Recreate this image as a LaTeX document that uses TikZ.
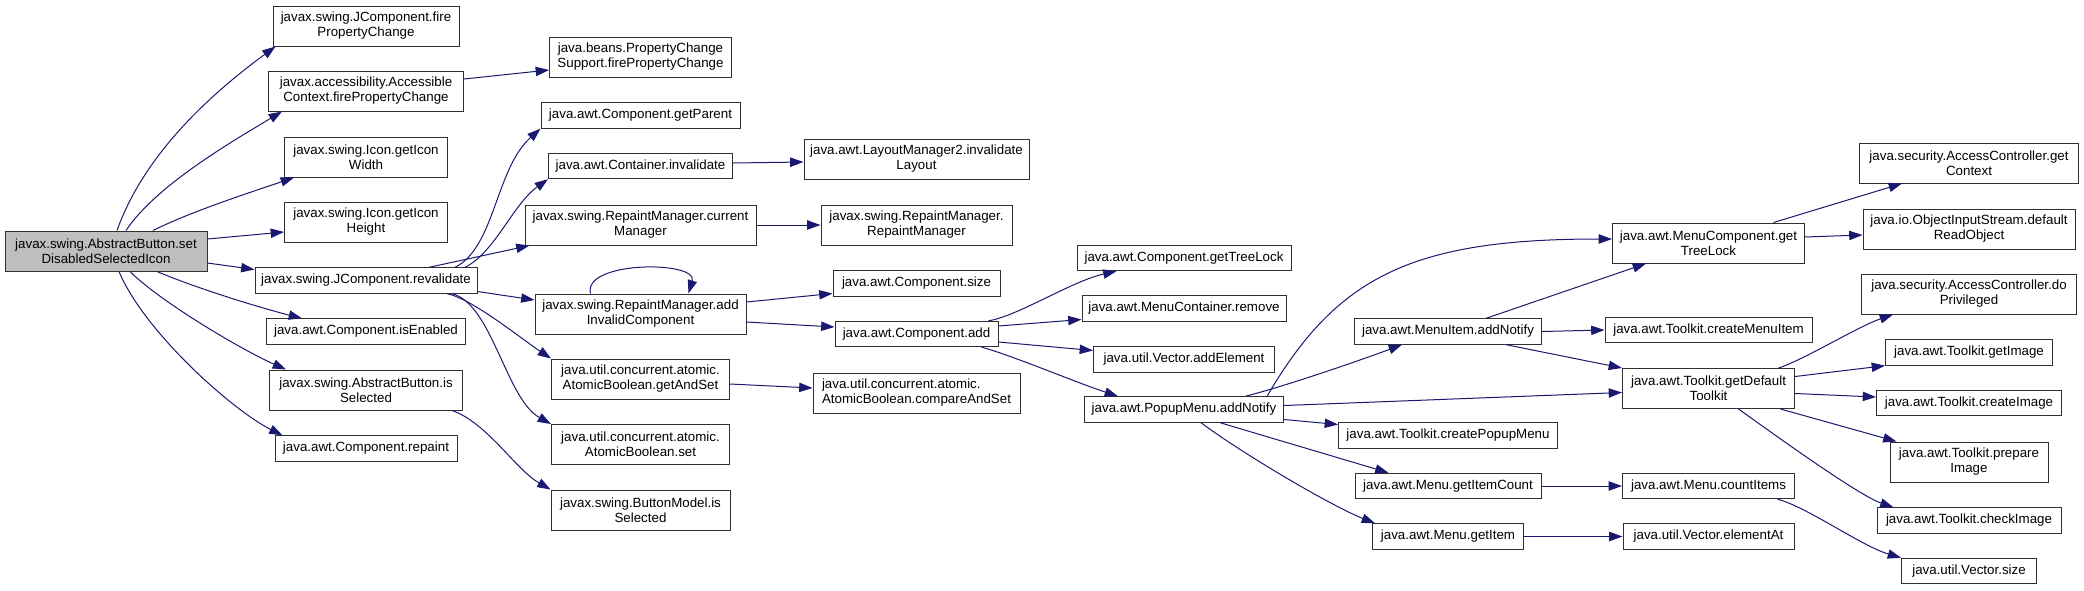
\documentclass[tikz,border=0pt]{standalone}
\usepackage{fontspec}
\setmainfont{Liberation Sans}
\usetikzlibrary{arrows.meta}
\definecolor{edge}{HTML}{191970}
\definecolor{rootfill}{HTML}{BFBFBF}
\definecolor{frame}{HTML}{303030}
\tikzset{
  fn/.style   = {draw=frame, fill=white, line width=0.75pt, minimum height=19pt,
                 inner xsep=1pt, inner ysep=0pt, align=center,
                 font=\fontsize{10}{11.25}\selectfont},
  two/.style  = {minimum height=30pt},
  wd/.style   = {minimum width=#1*0.75pt},
  cur/.style  = {fill=rootfill},
  call/.style = {draw=edge, line width=0.75pt, -{Triangle[length=10pt,width=7pt]}},
}
\begin{document}
\begin{tikzpicture}[x=0.75pt,y=-0.75pt]
  \useasboundingbox (0,0) rectangle (2084,590);
  \node[fn,two,cur,wd=202] (root) at (106,251) {javax.swing.AbstractButton.set\\DisabledSelectedIcon};
  \node[fn,two,wd=186] (jfire) at (366,26) {javax.swing.JComponent.fire\\PropertyChange};
  \node[fn,two,wd=195] (acc) at (366,91) {javax.accessibility.Accessible\\Context.firePropertyChange};
  \node[fn,two,wd=163] (iconw) at (366,157) {javax.swing.Icon.getIcon\\Width};
  \node[fn,two,wd=163] (iconh) at (366,222) {javax.swing.Icon.getIcon\\Height};
  \node[fn,wd=222] (reval) at (366,280.5) {javax.swing.JComponent.revalidate};
  \node[fn,wd=199] (isen) at (366,331.5) {java.awt.Component.isEnabled};
  \node[fn,two,wd=193] (issel) at (366,390) {javax.swing.AbstractButton.is\\Selected};
  \node[fn,wd=182] (repaint) at (366,448.5) {java.awt.Component.repaint};
  \node[fn,two,wd=182] (pcs) at (640.5,57) {java.beans.PropertyChange\\Support.firePropertyChange};
  \node[fn,wd=199] (getpar) at (640.5,115.5) {java.awt.Component.getParent};
  \node[fn,wd=184] (cinval) at (640.5,166) {java.awt.Container.invalidate};
  \node[fn,two,wd=231] (curmgr) at (640.5,225) {javax.swing.RepaintManager.current\\Manager};
  \node[fn,two,wd=211] (addinv) at (640.5,314) {javax.swing.RepaintManager.add\\InvalidComponent};
  \node[fn,two,wd=178] (getset) at (640.5,379) {java.util.concurrent.atomic.\\AtomicBoolean.getAndSet};
  \node[fn,two,wd=178] (abset) at (640.5,444.5) {java.util.concurrent.atomic.\\AtomicBoolean.set};
  \node[fn,two,wd=179] (bmsel) at (640.5,510) {javax.swing.ButtonModel.is\\Selected};
  \node[fn,two,wd=225] (lm2) at (916.5,159) {java.awt.LayoutManager2.invalidate\\Layout};
  \node[fn,two,wd=191] (rmgr) at (916.5,225) {javax.swing.RepaintManager.\\RepaintManager};
  \node[fn,wd=167] (csize) at (916.5,283.5) {java.awt.Component.size};
  \node[fn,wd=163] (cadd) at (916.5,334) {java.awt.Component.add};
  \node[fn,two,wd=207,align=left] (cmpset) at (916.5,393) {java.util.concurrent.atomic.\\AtomicBoolean.compareAndSet};
  \node[fn,wd=214] (ctree) at (1184,258) {java.awt.Component.getTreeLock};
  \node[fn,wd=204] (mcrem) at (1184,308.5) {java.awt.MenuContainer.remove};
  \node[fn,wd=181] (vadd) at (1184,359.5) {java.util.Vector.addElement};
  \node[fn,wd=199] (popup) at (1184,409.5) {java.awt.PopupMenu.addNotify};
  \node[fn,wd=187] (mitem) at (1448,331.5) {java.awt.MenuItem.addNotify};
  \node[fn,wd=219] (crpop) at (1448,435.5) {java.awt.Toolkit.createPopupMenu};
  \node[fn,wd=186] (gicount) at (1448,486) {java.awt.Menu.getItemCount};
  \node[fn,wd=151] (gitem) at (1448,536.5) {java.awt.Menu.getItem};
  \node[fn,two,wd=192] (mctree) at (1708.5,243) {java.awt.MenuComponent.get\\TreeLock};
  \node[fn,wd=207] (crmi) at (1708.5,330) {java.awt.Toolkit.createMenuItem};
  \node[fn,two,wd=172] (deftk) at (1708.5,388.5) {java.awt.Toolkit.getDefault\\Toolkit};
  \node[fn,wd=172] (cntit) at (1708.5,486) {java.awt.Menu.countItems};
  \node[fn,wd=171] (elat) at (1708.5,536.5) {java.util.Vector.elementAt};
  \node[fn,two,wd=219] (getctx) at (1969,163) {java.security.AccessController.get\\Context};
  \node[fn,two,wd=212] (readobj) at (1969,229) {java.io.ObjectInputStream.default\\ReadObject};
  \node[fn,two,wd=215] (dopriv) at (1969,294) {java.security.AccessController.do\\Privileged};
  \node[fn,wd=167] (getimg) at (1969,352.5) {java.awt.Toolkit.getImage};
  \node[fn,wd=185] (crimg) at (1969,403) {java.awt.Toolkit.createImage};
  \node[fn,two,wd=158] (prepimg) at (1969,462) {java.awt.Toolkit.prepare\\Image};
  \node[fn,wd=184] (chkimg) at (1969,520.5) {java.awt.Toolkit.checkImage};
  \node[fn,wd=135] (vsize) at (1969,571) {java.util.Vector.size};
  % calls
  \draw[call] ([shift={(11,0)}]root.north) .. controls +(25,-70) and +(-75,55) .. ([shift={(3,0)}]jfire.south west);
  \draw[call] ([shift={(20,0)}]root.north) .. controls +(30,-45) and +(-50,30) .. ([shift={(14,0)}]acc.south west);
  \draw[call] ([shift={(47,0)}]root.north) .. controls +(40,-20) and +(-35,12) .. ([shift={(10,0)}]iconw.south west);
  \draw[call] ([shift={(0,-12)}]root.east) -- ([shift={(0,10)}]iconh.west);
  \draw[call] ([shift={(0,12)}]root.east) -- ([shift={(0,-11)}]reval.west);
  \draw[call] ([shift={(51,0)}]root.south) .. controls +(40,17) and +(-40,-10) .. ([shift={(36,0)}]isen.north west);
  \draw[call] ([shift={(24,0)}]root.south) .. controls +(30,30) and +(-45,-20) .. ([shift={(17,0)}]issel.north west);
  \draw[call] ([shift={(13,0)}]root.south) .. controls +(25,60) and +(-50,-25) .. ([shift={(8,0)}]repaint.north west);
  \draw[call] ([shift={(0,-12)}]acc.east) -- ([shift={(0,13)}]pcs.west);
  \draw[call] ([shift={(89,0)}]reval.north) .. controls +(40,-20) and +(-45,40) .. (getpar.south west);
  \draw[call] ([shift={(99,0)}]reval.north) .. controls +(30,-15) and +(-35,25) .. (cinval.south west);
  \draw[call] ([shift={(63,0)}]reval.north) -- ([shift={(5,0)}]curmgr.south west);
  \draw[call] ([shift={(0,11)}]reval.east) -- ([shift={(0,-14)}]addinv.west);
  \draw[call] ([shift={(81,0)}]reval.south) .. controls +(25,5) and +(-30,-20) .. (getset.north west);
  \draw[call] ([shift={(86,0)}]reval.south) .. controls +(40,10) and +(-45,-25) .. (abset.north west);
  \draw[call] ([shift={(86,0)}]issel.south) .. controls +(35,12) and +(-35,-20) .. (bmsel.north west);
  \draw[call] ([shift={(0,-3)}]cinval.east) -- ([shift={(0,3)}]lm2.west);
  \draw[call] (curmgr.east) -- (rmgr.west);
  \draw[call] ([shift={(-50,0)}]addinv.north) .. controls +(-8,-33) and +(10,-33) .. ([shift={(48,0)}]addinv.north);
  \draw[call] ([shift={(0,-12)}]addinv.east) -- ([shift={(0,10)}]csize.west);
  \draw[call] ([shift={(0,8)}]addinv.east) -- ([shift={(0,-7)}]cadd.west);
  \draw[call] ([shift={(0,5)}]getset.east) -- ([shift={(0,-5)}]cmpset.west);
  \draw[call] ([shift={(72,0)}]cadd.north) .. controls +(30,-5) and +(-45,10) .. ([shift={(40,0)}]ctree.south west);
  \draw[call] ([shift={(0,-8)}]cadd.east) -- ([shift={(0,11)}]mcrem.west);
  \draw[call] ([shift={(0,8)}]cadd.east) -- ([shift={(0,-9)}]vadd.west);
  \draw[call] ([shift={(65,0)}]cadd.south) .. controls +(30,8) and +(-45,-15) .. ([shift={(34,0)}]popup.north west);
  \draw[call] ([shift={(83,0)}]popup.north) .. controls +(70,-120) and +(-200,0) .. ([shift={(0,-4)}]mctree.west);
  \draw[call] ([shift={(61,0)}]popup.north) .. controls +(40,-10) and +(-40,15) .. ([shift={(48,0)}]mitem.south west);
  \draw[call] ([shift={(0,-4)}]popup.east) -- ([shift={(0,4)}]deftk.west);
  \draw[call] ([shift={(0,10)}]popup.east) -- ([shift={(0,-11)}]crpop.west);
  \draw[call] ([shift={(36,0)}]popup.south) .. controls +(40,12) and +(-40,-12) .. ([shift={(34,0)}]gicount.north west);
  \draw[call] ([shift={(17,0)}]popup.south) .. controls +(40,30) and +(-45,-18) .. ([shift={(3,0)}]gitem.north west);
  \draw[call] ([shift={(38,0)}]mitem.north) -- ([shift={(34,0)}]mctree.south west);
  \draw[call] (mitem.east) -- (crmi.west);
  \draw[call] ([shift={(58,0)}]mitem.south) -- (deftk.north west);
  \draw[call] (gicount.east) -- (cntit.west);
  \draw[call] (gitem.east) -- (elat.west);
  \draw[call] ([shift={(65,0)}]mctree.north) -- ([shift={(43,0)}]getctx.south west);
  \draw[call] ([shift={(0,-6)}]mctree.east) -- ([shift={(0,6)}]readobj.west);
  \draw[call] ([shift={(70,0)}]deftk.north) .. controls +(25,-8) and +(-35,12) .. ([shift={(32,0)}]dopriv.south west);
  \draw[call] ([shift={(0,-12)}]deftk.east) -- (getimg.south west);
  \draw[call] ([shift={(0,5)}]deftk.east) -- ([shift={(0,-6)}]crimg.west);
  \draw[call] ([shift={(72,0)}]deftk.south) -- ([shift={(7,0)}]prepimg.north west);
  \draw[call] ([shift={(30,0)}]deftk.south) .. controls +(35,25) and +(-35,-12) .. ([shift={(17,0)}]chkimg.north west);
  \draw[call] ([shift={(69,0)}]cntit.south) .. controls +(30,8) and +(-40,-12) .. (vsize.north west);
\end{tikzpicture}
\end{document}
